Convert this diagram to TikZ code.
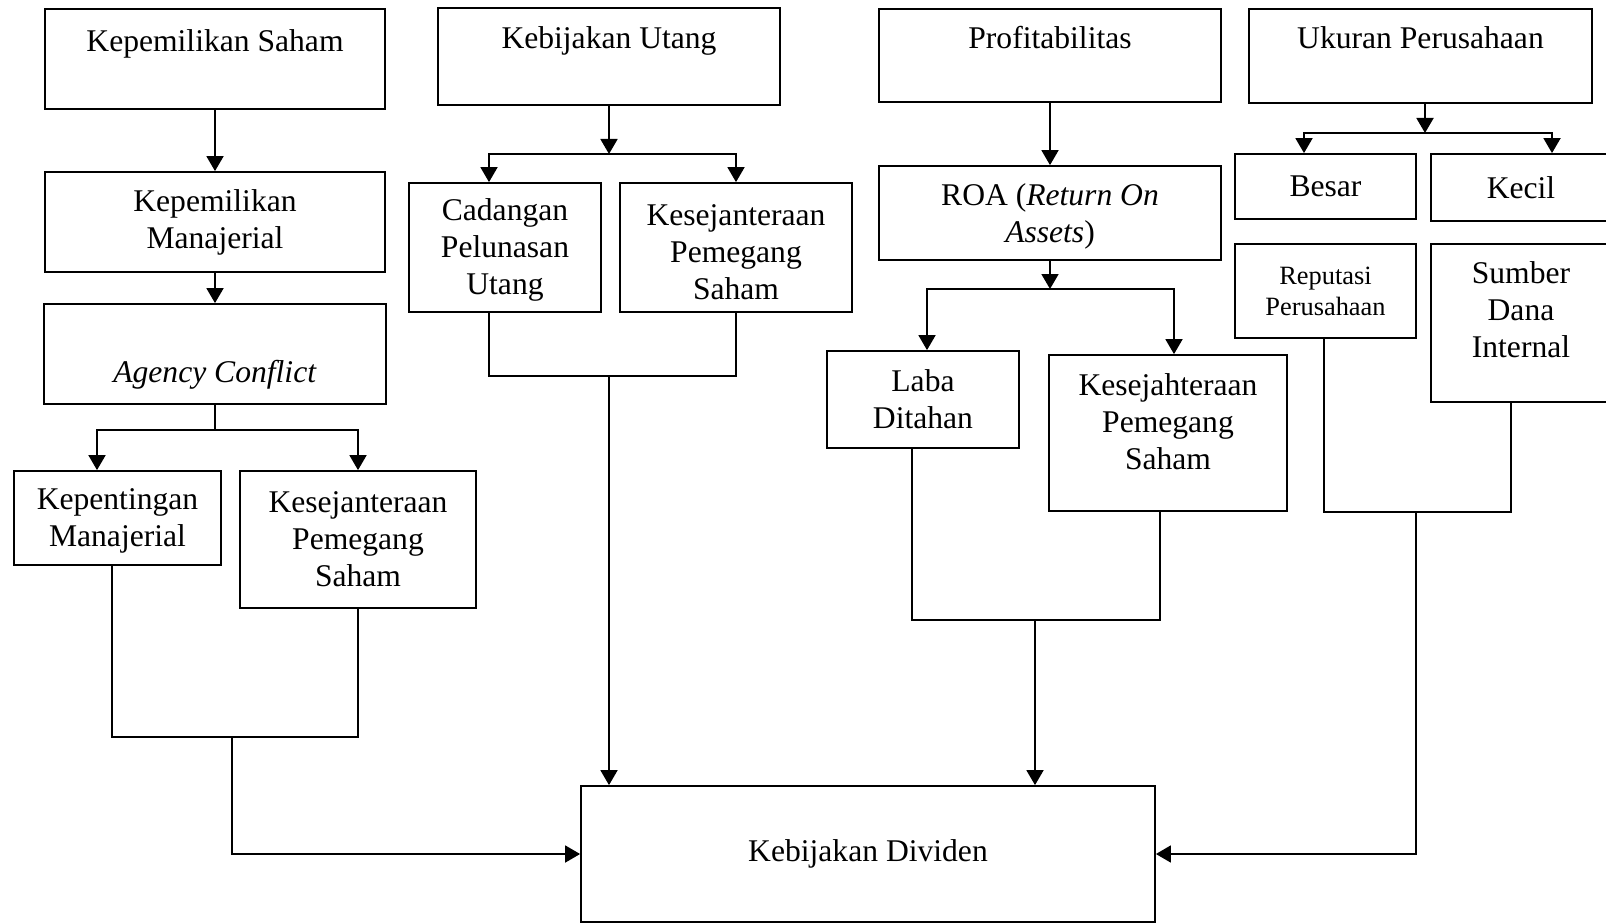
\documentclass[tikz,border=0pt]{standalone}
\usepackage{fontspec}
\setmainfont{Liberation Serif}
\usetikzlibrary{arrows.meta,positioning}

\begin{document}
\begin{tikzpicture}[
  x=1pt, y=-1pt,
  font=\fontsize{31.6}{37}\selectfont,
  blk/.style={draw, line width=1.8pt, align=center, inner sep=2pt},
  small/.style={blk, font=\fontsize{26.4}{31}\selectfont},
  arr/.style={-{Triangle[length=15pt, width=17pt]}, line width=1.8pt},
  ln/.style={line width=1.8pt},
]
\useasboundingbox (0,0) rectangle (1606,923);
% first column
\node[blk, minimum width=340pt, minimum height=100pt] (saham) at (215,59) {Kepemilikan Saham\\~};
\node[blk, minimum width=340pt, minimum height=100pt] (manaj) at (215,222) {Kepemilikan\\Manajerial};
\node[blk, minimum width=342pt, minimum height=100pt] (agency) at (215,354) {\strut\\\textit{Agency Conflict}};
\node[blk, minimum width=207pt, minimum height=94pt] (kepent) at (117.5,518) {\\[-10pt]Kepentingan\\Manajerial};
\node[blk, minimum width=236pt, minimum height=137pt] (kesejA) at (358,539.5) {Kesejanteraan\\Pemegang\\Saham};
% second column
\node[blk, minimum width=342pt, minimum height=97pt] (utang) at (609,56.5) {Kebijakan Utang\\~};
\node[blk, minimum width=192pt, minimum height=129pt] (cadang) at (505,247.5) {\\[-10pt]Cadangan\\Pelunasan\\Utang};
\node[blk, minimum width=232pt, minimum height=129pt] (kesejB) at (736,247.5) {\\[-6pt]Kesejanteraan\\Pemegang\\Saham};
% third column
\node[blk, minimum width=342pt, minimum height=93pt] (profit) at (1050,55.5) {Profitabilitas\\~};
\node[blk, minimum width=342pt, minimum height=94pt] (roa) at (1050,213) {\\[-8pt]ROA (\textit{Return On}\\\textit{Assets})};
\node[blk, minimum width=192pt, minimum height=97pt] (laba) at (923,399.5) {Laba\\Ditahan};
\node[blk, minimum width=238pt, minimum height=156pt] (kesejC) at (1168,433) {Kesejahteraan\\Pemegang\\Saham\\[-15pt]~};
% fourth column
\node[blk, minimum width=343pt, minimum height=94pt] (ukuran) at (1420.5,56) {Ukuran Perusahaan\\~};
\node[blk, minimum width=181pt, minimum height=65pt] (besar) at (1325.5,186.5) {Besar};
\node[blk, minimum width=180pt, minimum height=67pt] (kecil) at (1521,187.5) {Kecil};
\node[small, minimum width=181pt, minimum height=94pt] (reput) at (1325.5,291) {Reputasi\\Perusahaan};
\node[blk, minimum width=180pt, minimum height=158pt] (sumber) at (1521,323) {Sumber\\Dana\\Internal\\[-11pt]~};
% target
\node[blk, minimum width=574pt, minimum height=136pt] (dividen) at (868,854) {Kebijakan Dividen};

% first column links
\draw[arr] (saham) -- (manaj);
\draw[arr] (manaj) -- (agency);
\coordinate (agJ) at (215,430);
\draw[ln] (agency.south) -- (agJ);
\draw[arr] (agJ) -| ([xshift=-20.5pt]kepent.north);
\draw[arr] (agJ) -| (kesejA.north);
\coordinate (jA) at (232,737);
\draw[ln] ([xshift=-5.5pt]kepent.south) |- (kesejA.south |- jA) -- (kesejA.south);
\draw[arr] (jA) |- (dividen.west);
% second column links
\coordinate (utJ) at (609,154);
\draw[arr] (utang) -- (utJ);
\draw[arr] (utJ) -| ([xshift=-16pt]cadang.north);
\draw[arr] (utJ) -| (kesejB.north);
\coordinate (jB) at (609,376);
\draw[ln] ([xshift=-16pt]cadang.south) |- (kesejB.south |- jB) -- (kesejB.south);
\draw[arr] (jB) -- (jB |- dividen.north);
% third column links
\draw[arr] (profit) -- (roa);
\coordinate (roJ) at (1050,289);
\draw[arr] (roa) -- (roJ);
\draw[arr] (roJ) -| ([xshift=4pt]laba.north);
\draw[arr] (roJ) -| ([xshift=6pt]kesejC.north);
\coordinate (jC) at (1035,620);
\draw[ln] ([xshift=-11pt]laba.south) |- ([xshift=-8pt]kesejC.south |- jC) -- ([xshift=-8pt]kesejC.south);
\draw[arr] (jC) -- (jC |- dividen.north);
% fourth column links
\coordinate (ukJ) at (1425,133);
\draw[arr] (ukuran.south -| ukJ) -- (ukJ);
\draw[arr] (ukJ) -| ([xshift=-21.5pt]besar.north);
\draw[arr] (ukJ) -| ([xshift=31pt]kecil.north);
\coordinate (jD) at (1416,512);
\draw[ln] ([xshift=-1.5pt]reput.south) |- ([xshift=-10pt]sumber.south |- jD) -- ([xshift=-10pt]sumber.south);
\draw[arr] (jD) |- (dividen.east);
\end{tikzpicture}
\end{document}
